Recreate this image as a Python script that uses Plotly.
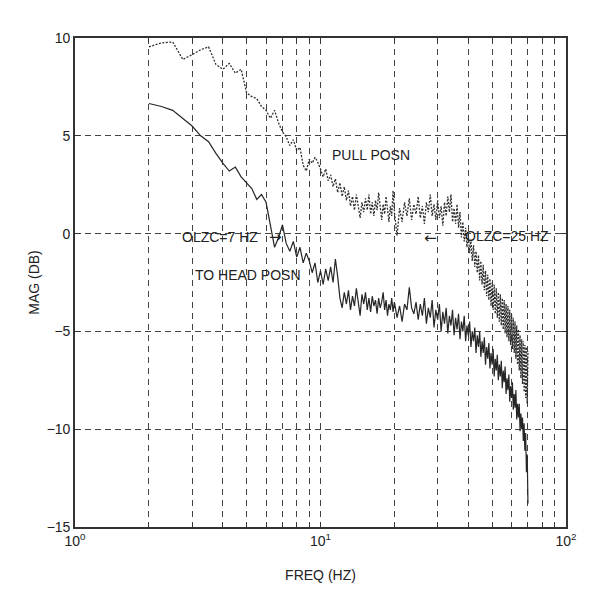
import math
import plotly.graph_objects as go

# ---------------- data ----------------
# frequency grid (Hz): 0.25 Hz steps up to 20 Hz, 0.5 Hz steps above
freq_low_band = [
    2.0, 2.25, 2.5, 2.75, 3.0, 3.25, 3.5, 3.75, 4.0, 4.25, 4.5, 4.75,
    5.0, 5.25, 5.5, 5.75, 6.0, 6.25, 6.5, 6.75, 7.0, 7.25, 7.5, 7.75,
    8.0, 8.25, 8.5, 8.75, 9.0, 9.25, 9.5, 9.75, 10.0, 10.25, 10.5, 10.75,
    11.0, 11.25, 11.5, 11.75, 12.0, 12.25, 12.5, 12.75, 13.0, 13.25, 13.5, 13.75,
    14.0, 14.25, 14.5, 14.75, 15.0, 15.25, 15.5, 15.75, 16.0, 16.25, 16.5, 16.75,
    17.0, 17.25, 17.5, 17.75, 18.0, 18.25, 18.5, 18.75, 19.0, 19.25, 19.5, 19.75,
    20.0,
]
freq_high_band = [
    20.5, 21.0, 21.5, 22.0, 22.5, 23.0, 23.5, 24.0, 24.5, 25.0,
    25.5, 26.0, 26.5, 27.0, 27.5, 28.0, 28.5, 29.0, 29.5, 30.0,
    30.5, 31.0, 31.5, 32.0, 32.5, 33.0, 33.5, 34.0, 34.5, 35.0,
    35.5, 36.0, 36.5, 37.0, 37.5, 38.0, 38.5, 39.0, 39.5, 40.0,
    40.5, 41.0, 41.5, 42.0, 42.5, 43.0, 43.5, 44.0, 44.5, 45.0,
    45.5, 46.0, 46.5, 47.0, 47.5, 48.0, 48.5, 49.0, 49.5, 50.0,
    50.5, 51.0, 51.5, 52.0, 52.5, 53.0, 53.5, 54.0, 54.5, 55.0,
    55.5, 56.0, 56.5, 57.0, 57.5, 58.0, 58.5, 59.0, 59.5, 60.0,
    60.5, 61.0, 61.5, 62.0, 62.5, 63.0, 63.5, 64.0, 64.5, 65.0,
    65.5, 66.0, 66.5, 67.0, 67.5, 68.0, 68.5, 69.0, 69.5, 70.0,
]

# "TO HEAD POSN" (solid line), dB
head_low_band = [
    6.65, 6.5, 6.3, 5.9,  5.5, 5.0, 4.7, 4.1,  3.6, 3.2, 3.4, 2.9,
    2.6, 2.3, 1.75, 2.0,  1.6, 0.4, -0.7, -0.2,  0.45, -0.5, -0.9, -0.4,
    -1.2, -0.7, -1.5, -1.0,  -1.4, -2.0, -1.5, -2.5,  -1.9, -2.6, -1.8, -2.4,
    -1.7, -2.5, -1.3, -2.2,  -3.3, -3.8, -3.0, -3.6,  -2.9, -3.9, -3.2, -3.7,
    -2.8, -3.5, -4.2, -3.1,  -3.6, -3.0, -3.9, -3.3,  -4.0, -3.2, -3.7, -3.4,
    -4.1, -3.3, -3.8, -3.5,  -3.0, -3.9, -3.4, -4.2,  -3.6, -3.9, -3.3, -4.0,
    -3.5,
]
head_high_band = [
    -4.3, -3.7, -4.5, -3.6, -3.9, -2.75, -3.8, -4.1, -3.5, -4.4,
    -3.6, -4.2, -3.3, -4.6, -3.8, -4.3, -3.4, -4.8, -3.9, -4.4,
    -3.6, -5.0, -4.0, -4.6, -3.8, -5.1, -4.2, -4.7, -3.9, -5.2,
    -4.3, -4.9, -4.1, -5.4, -4.5, -5.0, -4.2, -5.5, -4.7, -5.2,
    -4.5, -5.8, -5.0, -5.5, -4.8, -6.1, -5.2, -5.8, -5.0, -6.3,
    -5.5, -6.1, -5.3, -6.7, -5.8, -6.4, -5.6, -6.9, -6.1, -6.7,
    -5.9, -7.3, -6.4, -7.0, -6.2, -7.5, -6.7, -7.3, -6.5, -7.9,
    -7.0, -7.6, -6.8, -8.2, -7.4, -8.0, -7.2, -8.6, -7.8, -8.4,
    -7.6, -9.0, -8.2, -8.9, -8.0, -9.5, -8.7, -9.4, -8.7, -10.1,
    -9.2, -10.0, -9.4, -10.6, -9.7, -11.1, -10.2, -12.2, -11.3, -13.8,
]

# "PULL POSN" (dotted line), dB
pull_low_band = [
    9.55, 9.75, 9.8, 8.9,  9.15, 9.4, 9.55, 8.65,  8.4, 8.7, 8.2, 8.4,
    7.2, 7.0, 6.9, 6.5,  6.3, 5.9, 6.3, 5.65,  5.2, 4.95, 4.5, 4.8,
    4.25, 4.4, 3.5, 3.2,  3.8, 3.6, 3.9, 3.65,  3.3, 2.9, 3.3, 2.7,
    3.0, 2.4, 2.8, 2.1,  2.6, 1.9, 2.4, 1.7,  2.2, 1.4, 1.9, 1.2,
    2.0, 1.3, 0.8, 1.6,  1.1, 1.8, 1.2, 2.0,  1.0, 1.6, 0.9, 1.7,
    1.2, 2.1, 1.3, 0.7,  1.5, 1.0, 1.9, 1.2,  0.6, 1.4, 0.9, 2.2,
    1.1,
]
pull_high_band = [
    -0.1, 1.3, 0.6, 1.6, 0.9, 1.8, 0.7, 1.5, 1.0, 1.9,
    0.8, 1.4, 0.5, 1.6, 1.1, 2.0, 0.9, 1.5, 0.7, 1.7,
    0.8, 1.4, 0.4, 1.6, 0.9, 1.9, 1.1, 2.0, 0.6, 1.3,
    0.5, 1.5, 0.3, 1.1, -0.2, 0.6, -0.4, 0.3, -0.7, 0.0,
    -1.0, -0.3, -1.4, -0.6, -1.7, -0.9, -2.0, -1.1, -2.4, -1.4,
    -2.6, -1.6, -2.9, -1.9, -3.2, -2.1, -3.4, -2.3, -3.7, -2.5,
    -3.9, -2.6, -4.1, -2.8, -4.3, -3.0, -4.5, -3.1, -4.7, -3.3,
    -4.9, -3.4, -5.1, -3.6, -5.3, -3.7, -5.5, -3.9, -5.7, -4.1,
    -5.9, -4.3, -6.1, -4.5, -6.4, -4.7, -6.7, -4.9, -7.0, -5.2,
    -7.4, -5.4, -7.7, -5.5, -8.1, -5.7, -8.4, -5.8, -8.7, -6.0,
]

freq_hz = freq_low_band + freq_high_band
head_db = head_low_band + head_high_band
pull_db = pull_low_band + pull_high_band

x_major_ticks = [1, 10, 100]
x_major_labels = ["10<sup>0</sup>", "10<sup>1</sup>", "10<sup>2</sup>"]
x_minor_ticks = [2, 3, 4, 5, 6, 7, 8, 9, 20, 30, 40, 50, 60, 70, 80, 90]
y_ticks = [-15, -10, -5, 0, 5, 10]

# ---------------- figure ----------------
FONT = "Liberation Sans, Arial, Helvetica, sans-serif"
ARROW_FONT = "DejaVu Sans, sans-serif"
INK = "#222222"
GRID = "#444444"

fig = go.Figure()
fig.add_trace(go.Scatter(
    x=freq_hz, y=pull_db, mode="lines",
    line=dict(color="#2e2e2e", width=1.3, dash="2px,1.5px"),
    showlegend=False, hoverinfo="skip",
))
fig.add_trace(go.Scatter(
    x=freq_hz, y=head_db, mode="lines",
    line=dict(color="#262626", width=1.2),
    showlegend=False, hoverinfo="skip",
))

notes = [
    ("PULL POSN", 10.93, 4.0, FONT, 14),
    ("OLZC=7 HZ", 2.68, -0.15, FONT, 14),
    ("\u2192", 6.05, -0.15, ARROW_FONT, 15),
    ("TO HEAD POSN", 3.02, -2.13, FONT, 14),
    ("\u2190", 25.9, -0.2, ARROW_FONT, 15),
    ("OLZC=25 HZ", 38.0, -0.1, FONT, 14),
]
for text, fx, fy, fam, size in notes:
    fig.add_annotation(
        x=math.log10(fx), y=fy, xref="x", yref="y", text=text,
        showarrow=False, xanchor="left", yanchor="middle",
        font=dict(family=fam, size=size, color=INK),
    )

# the page body adds an 8 px offset, so the figure is 8 px smaller
fig.update_layout(
    width=582, height=585,
    margin=dict(l=67, r=24, t=30, b=61),
    paper_bgcolor="white", plot_bgcolor="white",
    font=dict(family=FONT, size=14, color=INK),
)
fig.update_xaxes(
    type="log", range=[0, 2],
    tickmode="array", tickvals=x_major_ticks, ticktext=x_major_labels,
    showgrid=True, gridcolor=GRID, gridwidth=1, griddash="6px,5px",
    ticks="inside", ticklen=5, tickcolor="#333",
    minor=dict(tickmode="array", tickvals=x_minor_ticks, showgrid=True,
               gridcolor=GRID, gridwidth=1, griddash="6px,5px",
               ticks="inside", ticklen=4, tickcolor="#333"),
    showline=True, mirror="ticks", linecolor="#333", linewidth=1.6,
    zeroline=False,
    title=dict(text="FREQ (HZ)", font=dict(family=FONT, size=14, color=INK), standoff=23),
    tickfont=dict(family=FONT, size=14, color=INK),
)
fig.update_yaxes(
    range=[-15, 10], tickmode="array", tickvals=y_ticks,
    showgrid=True, gridcolor=GRID, gridwidth=1, griddash="6px,4px",
    ticks="inside", ticklen=5, tickcolor="#333",
    showline=True, mirror="ticks", linecolor="#333", linewidth=1.6,
    zeroline=False,
    title=dict(text="MAG (DB)", font=dict(family=FONT, size=14, color=INK), standoff=4),
    tickfont=dict(family=FONT, size=14, color=INK),
)

fig.write_html("out.html")
